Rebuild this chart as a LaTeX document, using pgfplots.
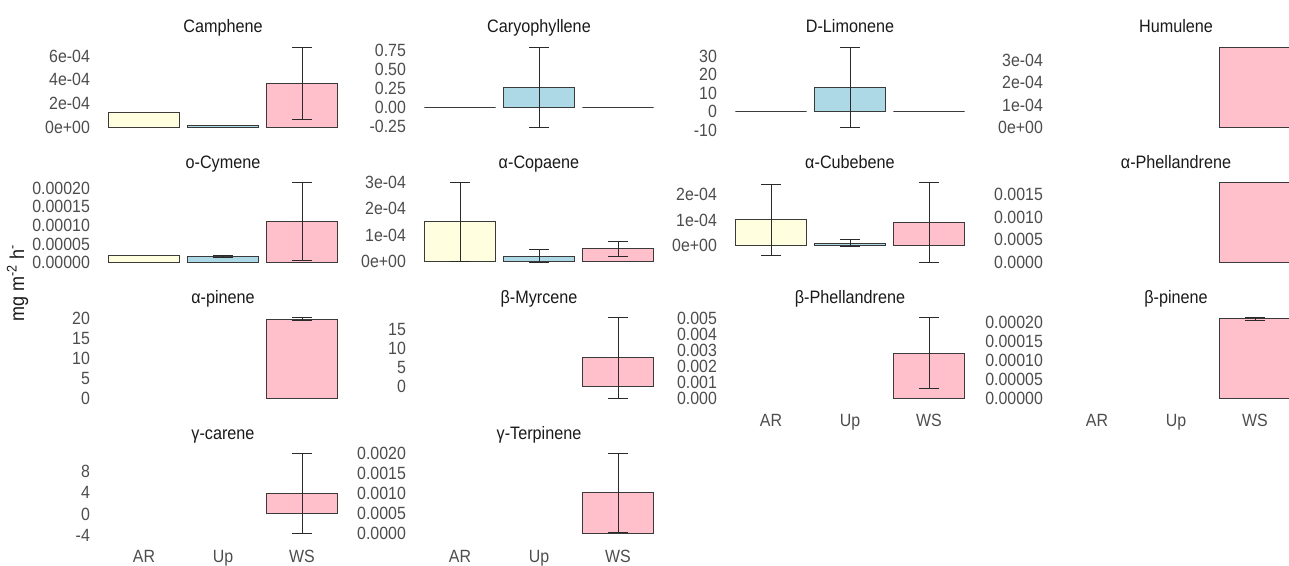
\documentclass[border=0pt]{standalone}
\usepackage{fontspec}
\setmainfont{Liberation Sans}[FakeStretch=0.9]
\usepackage{pgfplots}
\pgfplotsset{compat=1.18}
\definecolor{arc}{HTML}{FFFFE0}
\definecolor{upc}{HTML}{ADD8E6}
\definecolor{wsc}{HTML}{FFC0CB}
\definecolor{bord}{HTML}{3A3A3A}
\definecolor{errc}{HTML}{2A2A2A}
\definecolor{tickc}{HTML}{4D4D4D}
\definecolor{titc}{HTML}{1A1A1A}
\newcommand\tickfont{\fontsize{17.7pt}{20pt}\selectfont}
\newcommand\titfont{\fontsize{18pt}{20pt}\selectfont}
\pgfplotsset{
 panel/.style={
   scale only axis, width=252.8pt, height=88.3pt,
   xmin=-0.6, xmax=2.6,
   axis line style={draw=none},
   tick style={draw=none},
   major tick length=0pt,
   scaled y ticks=false,
   xtick=\empty,
   yticklabel style={font=\tickfont, text=tickc, anchor=east, inner sep=0pt, xshift=-6.5pt},
   xticklabel style={font=\tickfont, text=tickc, anchor=north, inner sep=0pt, yshift=-12.3pt},
   every axis title shift=0pt,
   title style={font=\titfont, text=titc, at={(0.5,1)}, anchor=base, inner sep=0pt, yshift=10pt},
   anchor=north west,
 },
 xlab/.style={xtick={0,1,2}, xticklabels={AR,Up,WS}},
 b/.style={ybar, bar width=0.9, bar shift=0pt, draw=bord, line width=1pt, fill=#1,
   error bars/error bar style={draw=errc, line width=0.9pt},
   error bars/error mark options={rotate=90, mark size=10pt, draw=errc, line width=0.9pt}},
}
\begin{document}
\begin{tikzpicture}
% ---------------- Row 1 ----------------
\begin{axis}[panel, at={(96.6pt,522pt)}, title={Camphene},
  ymin=-0.3375e-4, ymax=7.0875e-4, ytick={0,2e-4,4e-4,6e-4}, yticklabels={0e+00,2e-04,4e-04,6e-04}]
\addplot[b=arc] coordinates {(0,1.25e-4)};
\addplot[b=upc] coordinates {(1,0.15e-4)};
\addplot[b=wsc, error bars/.cd, y dir=both, y explicit] coordinates {(2,3.7e-4) +- (0,3.0e-4)};
\end{axis}
\begin{axis}[panel, at={(412.6pt,522pt)}, title={Caryophyllene},
  ymin=-0.3125, ymax=0.8425, ytick={-0.25,0,0.25,0.5,0.75}, yticklabels={-0.25,0.00,0.25,0.50,0.75}]
\addplot[b=arc] coordinates {(0,0)};
\addplot[b=upc, error bars/.cd, y dir=both, y explicit] coordinates {(1,0.265) +- (0,0.525)};
\addplot[b=wsc] coordinates {(2,0)};
\end{axis}
\begin{axis}[panel, at={(723.6pt,522pt)}, title={D-Limonene},
  ymin=-10.56, ymax=36.96, ytick={-10,0,10,20,30}, yticklabels={-10,0,10,20,30}]
\addplot[b=arc] coordinates {(0,0)};
\addplot[b=upc, error bars/.cd, y dir=both, y explicit] coordinates {(1,13.2) +- (0,21.6)};
\addplot[b=wsc] coordinates {(2,0)};
\end{axis}
\begin{axis}[panel, at={(1049.6pt,522pt)}, title={Humulene},
  ymin=-0.18e-4, ymax=3.78e-4, ytick={0,1e-4,2e-4,3e-4}, yticklabels={0e+00,1e-04,2e-04,3e-04}]
\addplot[b=wsc] coordinates {(2,3.6e-4)};
\end{axis}
% ---------------- Row 2 ----------------
\begin{axis}[panel, at={(96.6pt,386.6pt)}, title={o-Cymene},
  ymin=-1.075e-5, ymax=2.2575e-4, ytick={0,5e-5,1e-4,1.5e-4,2e-4}, yticklabels={0.00000,0.00005,0.00010,0.00015,0.00020}]
\addplot[b=arc] coordinates {(0,1.9e-5)};
\addplot[b=upc, error bars/.cd, y dir=both, y explicit] coordinates {(1,1.7e-5) +- (0,0.2e-5)};
\addplot[b=wsc, error bars/.cd, y dir=both, y explicit] coordinates {(2,1.1e-4) +- (0,1.05e-4)};
\end{axis}
\begin{axis}[panel, at={(412.6pt,386.6pt)}, title={α-Copaene},
  ymin=-0.2e-4, ymax=3.15e-4, ytick={0,1e-4,2e-4,3e-4}, yticklabels={0e+00,1e-04,2e-04,3e-04}]
\addplot[b=arc, error bars/.cd, y dir=both, y explicit] coordinates {(0,1.5e-4) +- (0,1.5e-4)};
\addplot[b=upc, error bars/.cd, y dir=both, y explicit] coordinates {(1,0.2e-4) +- (0,0.25e-4)};
\addplot[b=wsc, error bars/.cd, y dir=both, y explicit] coordinates {(2,0.48e-4) +- (0,0.28e-4)};
\end{axis}
\begin{axis}[panel, at={(723.6pt,386.6pt)}, title={α-Cubebene},
  ymin=-0.805e-4, ymax=2.605e-4, ytick={0,1e-4,2e-4}, yticklabels={0e+00,1e-04,2e-04}]
\addplot[b=arc, error bars/.cd, y dir=both, y explicit] coordinates {(0,1.0e-4) +- (0,1.38e-4)};
\addplot[b=upc, error bars/.cd, y dir=both, y explicit] coordinates {(1,0.1e-4) +- (0,0.13e-4)};
\addplot[b=wsc, error bars/.cd, y dir=both, y explicit] coordinates {(2,0.9e-4) +- (0,1.55e-4)};
\end{axis}
\begin{axis}[panel, at={(1049.6pt,386.6pt)}, title={α-Phellandrene},
  ymin=-0.000088, ymax=0.001848, ytick={0,0.0005,0.001,0.0015}, yticklabels={0.0000,0.0005,0.0010,0.0015}]
\addplot[b=wsc] coordinates {(2,0.00176)};
\end{axis}
% ---------------- Row 3 ----------------
\begin{axis}[panel, at={(96.6pt,251.2pt)}, title={α-pinene},
  ymin=-1.0075, ymax=21.16, ytick={0,5,10,15,20}, yticklabels={0,5,10,15,20}]
\addplot[b=wsc, error bars/.cd, y dir=both, y explicit] coordinates {(2,19.8) +- (0,0.35)};
\end{axis}
\begin{axis}[panel, at={(412.6pt,251.2pt)}, title={β-Myrcene},
  ymin=-4.16, ymax=19.16, ytick={0,5,10,15}, yticklabels={0,5,10,15}]
\addplot[b=wsc, error bars/.cd, y dir=both, y explicit] coordinates {(2,7.5) +- (0,10.6)};
\end{axis}
\begin{axis}[panel, xlab, at={(723.6pt,251.2pt)}, title={β-Phellandrene},
  ymin=-0.000251, ymax=0.005271, ytick={0,0.001,0.002,0.003,0.004,0.005}, yticklabels={0.000,0.001,0.002,0.003,0.004,0.005}]
\addplot[b=wsc, error bars/.cd, y dir=both, y explicit] coordinates {(2,0.0028) +- (0,0.00222)};
\end{axis}
\begin{axis}[panel, xlab, at={(1049.6pt,251.2pt)}, title={β-pinene},
  ymin=-1.065e-5, ymax=2.2365e-4, ytick={0,5e-5,1e-4,1.5e-4,2e-4}, yticklabels={0.00000,0.00005,0.00010,0.00015,0.00020}]
\addplot[b=wsc, error bars/.cd, y dir=both, y explicit] coordinates {(2,2.1e-4) +- (0,0.03e-4)};
\end{axis}
% ---------------- Row 4 ----------------
\begin{axis}[panel, xlab, at={(96.6pt,115.8pt)}, title={γ-carene},
  ymin=-4.46, ymax=12.26, ytick={-4,0,4,8}, yticklabels={-4,0,4,8}]
\addplot[b=wsc, error bars/.cd, y dir=both, y explicit] coordinates {(2,3.9) +- (0,7.6)};
\end{axis}
\begin{axis}[panel, xlab, at={(412.6pt,115.8pt)}, title={γ-Terpinene},
  ymin=-0.0001, ymax=0.0021, ytick={0,0.0005,0.001,0.0015,0.002}, yticklabels={0.0000,0.0005,0.0010,0.0015,0.0020}]
\addplot[b=wsc, error bars/.cd, y dir=both, y explicit] coordinates {(2,0.00101) +- (0,0.00099)};
\end{axis}
% y label
\node[rotate=90, font=\fontsize{20pt}{22pt}\selectfont, text=titc, inner sep=0pt] at (17.5pt,282pt) {mg m\textsuperscript{-2} h\textsuperscript{-}};
\pgfresetboundingbox
\path[use as bounding box] (0pt,0pt) rectangle (1289pt,565pt);
\end{tikzpicture}
\end{document}
